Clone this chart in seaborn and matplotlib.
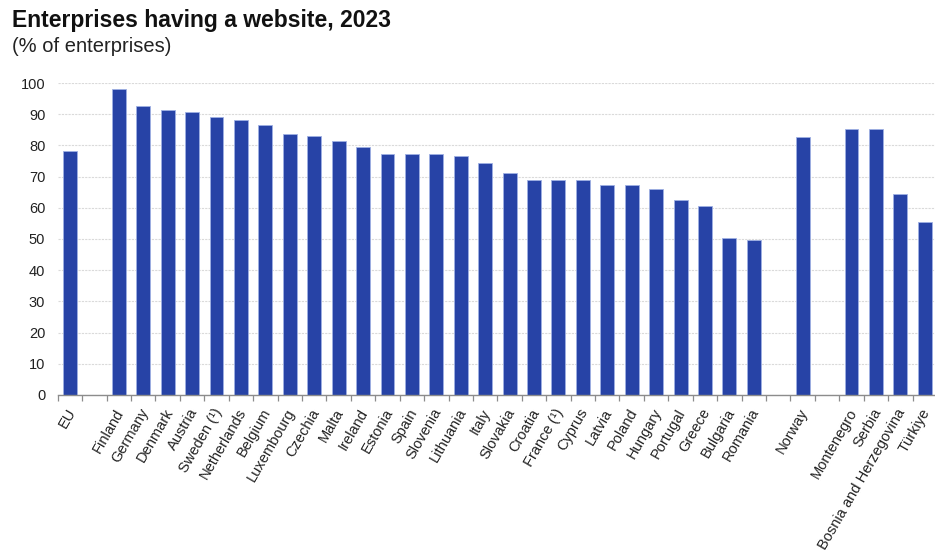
import numpy as np
import pandas as pd
import matplotlib
matplotlib.use("Agg")
import matplotlib.pyplot as plt
import matplotlib.transforms as mtransforms
import seaborn as sns

# Share of enterprises having a website, 2023 (%)
eu_labels = ["EU"]
eu_values = [78.1]

member_labels = [
    "Finland", "Germany", "Denmark", "Austria", "Sweden (¹)", "Netherlands",
    "Belgium", "Luxembourg", "Czechia", "Malta", "Ireland", "Estonia", "Spain",
    "Slovenia", "Lithuania", "Italy", "Slovakia", "Croatia", "France (¹)",
    "Cyprus", "Latvia", "Poland", "Hungary", "Portugal", "Greece", "Bulgaria",
    "Romania",
]
member_values = [
    98.2, 92.6, 91.3, 90.6, 89.1, 88.1, 86.5, 83.6, 82.9, 81.3, 79.5, 77.2,
    77.2, 77.2, 76.5, 74.2, 71.0, 69.0, 68.8, 68.8, 67.3, 67.3, 66.0, 62.4,
    60.7, 50.3, 49.6,
]

efta_labels = ["Norway"]
efta_values = [82.8]

candidate_labels = ["Montenegro", "Serbia", "Bosnia and Herzegovina", "Türkiye"]
candidate_values = [85.3, 85.1, 64.4, 55.6]

# Empty slots separate the country groups along the axis
gap_labels = [" ", "  ", "   "]
order = (eu_labels + [gap_labels[0]] + member_labels + [gap_labels[1]]
         + efta_labels + [gap_labels[2]] + candidate_labels)

df = pd.DataFrame({
    "country": eu_labels + member_labels + efta_labels + candidate_labels,
    "value": eu_values + member_values + efta_values + candidate_values,
})

sns.set_theme(style="white")
plt.rcParams["font.family"] = ["Liberation Sans", "DejaVu Sans"]

W, H, DPI = 935, 556, 100
fig = plt.figure(figsize=(W / DPI, H / DPI), dpi=DPI)
left_px, right_px, top_px, bottom_px = 57.75, 937.0, 83.0, 395.0
ax = fig.add_axes([left_px / W, 1 - bottom_px / H,
                   (right_px - left_px) / W, (bottom_px - top_px) / H])

bar_color = "#2743a6"
sns.barplot(data=df, x="country", y="value", order=order, ax=ax,
            color=bar_color, saturation=1, width=0.57,
            edgecolor="#9fb0e3", linewidth=0.6, zorder=3)

n = len(order)
ax.set_xlim(-0.5, n - 0.5)
ax.set_ylim(0, 100)
ax.set_yticks(np.arange(0, 101, 10))
ax.set_yticklabels([str(v) for v in range(0, 101, 10)], fontsize=10.5,
                   color="#222222")

ax.yaxis.grid(True, color="#dadada", linewidth=0.8, linestyle=(0, (2, 1)),
              zorder=0)
ax.xaxis.grid(False)
for side in ("left", "right", "top"):
    ax.spines[side].set_visible(False)
ax.spines["bottom"].set_color("#8c8c8c")
ax.spines["bottom"].set_linewidth(1.0)
ax.spines["bottom"].set_zorder(4)

label_pos = [i for i, c in enumerate(order) if c.strip()]
ax.set_xticks(label_pos)
ax.set_xticklabels([order[i] for i in label_pos], rotation=60, ha="right",
                   rotation_mode="anchor", fontsize=10.5, color="#222222")
ax.set_xticks(np.arange(-0.5, n, 1.0), minor=True)
ax.tick_params(axis="x", which="major", length=0, pad=8)
ax.tick_params(axis="x", which="minor", length=4, width=0.9,
               color="#8c8c8c", direction="out", bottom=True)
ax.tick_params(axis="y", length=0, pad=9)
ax.set_xlabel("")
ax.set_ylabel("")

# nudge rotated country names slightly left so the last one stays inside
shift = mtransforms.ScaledTranslation(-4 / DPI, 0, fig.dpi_scale_trans)
for lbl in ax.get_xticklabels():
    lbl.set_transform(lbl.get_transform() + shift)

fig.text(12 / W, 1 - 21 / H, "Enterprises having a website, 2023",
         fontsize=16.5, fontweight="bold", ha="left", va="center",
         color="#111111")
fig.text(12 / W, 1 - 46 / H, "(% of enterprises)", fontsize=14.5,
         ha="left", va="center", color="#222222")

fig.savefig("out.png", dpi=DPI)
